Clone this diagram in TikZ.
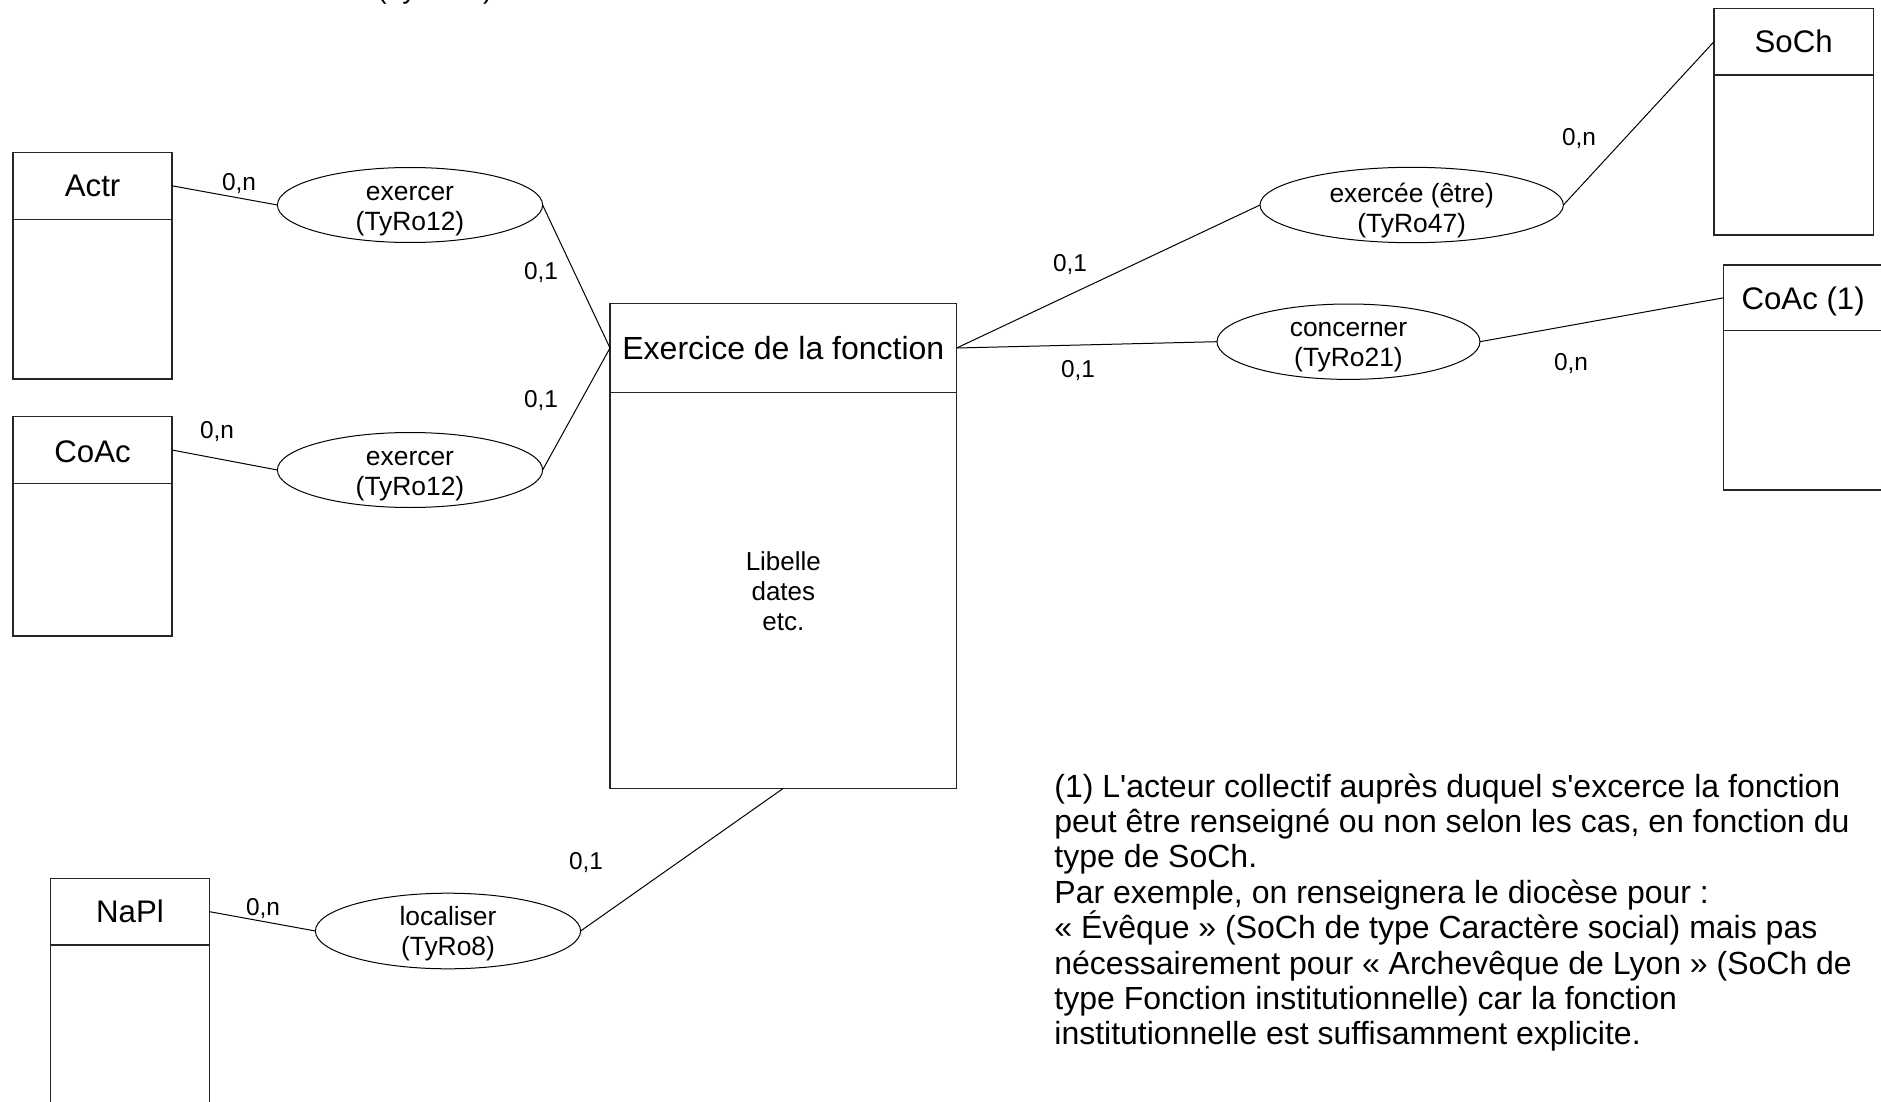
\documentclass[tikz,border=0pt]{standalone}
\usepackage{fontspec}
\setmainfont{Liberation Sans}
\newfontfamily\plainsans{Liberation Sans}
\usetikzlibrary{shapes.geometric}
\begin{document}
\begin{tikzpicture}[x=0.5pt,y=-0.5pt,
  enthead/.style={draw=black!85, line width=0.75pt, rectangle, inner sep=0pt, outer sep=0pt,
    minimum width=79.4pt, text depth=0pt, font=\fontsize{15.6}{18}\selectfont},
  entbody/.style={draw=black!85, line width=0.75pt, rectangle, inner sep=0pt, outer sep=0pt,
    minimum width=79.4pt, anchor=north},
  rel/.style={draw=black, line width=0.5pt, ellipse, inner sep=0pt, outer sep=0pt},
  reltext/.style={inner sep=0pt, align=center, font=\fontsize{13.2}{15}\selectfont},
  card/.style={inner sep=0pt, font=\fontsize{12.2}{14}\selectfont},
  link/.style={draw=black, line width=0.5pt},
  noteline/.style={inner sep=0pt, anchor=base west, font=\plainsans\fontsize{16}{17.5}\selectfont}
]
\useasboundingbox (0,0) rectangle (1881,1102);
\clip (0,0) rectangle (1881,1102);

% cut-off text at the top
\node[inner sep=0pt, anchor=base west, font=\fontsize{14}{16}\selectfont] (topcut) at (377,-1) {(TyRo12)};

% entities
\node[enthead, minimum height=33.5pt] (actr) at (92.6,185.8) {Actr};
\node[entbody, minimum height=79.85pt] (actrb) at (actr.south) {};

\node[enthead, minimum height=33.3pt] (coac) at (92.6,450) {\raisebox{-2pt}{CoAc}};
\node[entbody, minimum height=76.35pt] (coacb) at (coac.south) {};

\node[enthead, minimum height=33.35pt] (napl) at (130,911.65) {NaPl};
\node[entbody, minimum height=84pt] (naplb) at (napl.south) {};

\node[enthead, minimum height=33.35pt, minimum width=79.65pt] (soch) at (1793.65,41.65) {SoCh};
\node[entbody, minimum height=80pt, minimum width=79.65pt] (sochb) at (soch.south) {};

\node[enthead, minimum height=32.85pt, minimum width=79.85pt] (coacun) at (1803.15,297.85) {CoAc (1)};
\node[entbody, minimum height=79.65pt, minimum width=79.85pt] (coacunb) at (coacun.south) {};

\node[enthead, minimum height=44.7pt, minimum width=173.35pt, font=\fontsize{16}{18}\selectfont] (ex) at (783.35,348) {Exercice de la fonction};
\node[entbody, minimum height=197.8pt, minimum width=173.35pt] (exb) at (ex.south) {};
\node[reltext, font=\fontsize{13}{15}\selectfont] (exattr) at (783.35,591.7) {Libelle\\dates\\etc.};

% relations
\node[rel, minimum width=132.6pt, minimum height=37.5pt] (e1) at (410,205) {};
\node[reltext] (e1t) at (410,211.5) {exercer\\(TyRo12)};
\node[rel, minimum width=132.6pt, minimum height=37.5pt] (e2) at (410,470) {};
\node[reltext] (e2t) at (410,476.5) {exercer\\(TyRo12)};
\node[rel, minimum width=151.7pt, minimum height=37.7pt] (e3) at (1411.7,205) {};
\node[reltext] (e3t) at (1411.7,211) {exercée (être)\\(TyRo47)};
\node[rel, minimum width=131.5pt, minimum height=37.7pt] (e4) at (1348.5,341.7) {};
\node[reltext] (e4t) at (1348.5,347) {concerner\\(TyRo21)};
\node[rel, minimum width=132.6pt, minimum height=37.8pt] (e5) at (448,931) {};
\node[reltext] (e5t) at (448,934) {localiser\\(TyRo8)};

% connectors
\draw[link] (actr.east) -- (e1.west);
\draw[link] (coac.east) -- (e2.west);
\draw[link] (e1.east) -- (ex.west);
\draw[link] (e2.east) -- (ex.west);
\draw[link] (ex.east) -- (e3.west);
\draw[link] (ex.east) -- (e4.west);
\draw[link] (e3.east) -- (soch.west);
\draw[link] (e4.east) -- (coacun.west);
\draw[link] (exb.south) -- (e5.east);
\draw[link] (napl.east) -- (e5.west);

% cardinalities
\node[card] (c1) at (239,184) {0,n};
\node[card] (c2) at (217,432) {0,n};
\node[card] (c3) at (541,273) {0,1};
\node[card] (c4) at (541,401) {0,1};
\node[card] (c5) at (1070,265) {0,1};
\node[card] (c6) at (1078,371) {0,1};
\node[card] (c7) at (1579,139) {0,n};
\node[card] (c8) at (1571,364) {0,n};
\node[card] (c9) at (263,909) {0,n};
\node[card] (c10) at (586,863) {0,1};

% note
\node[noteline] (n1) at (1054,797) {(1) L'acteur collectif auprès duquel s'excerce la fonction};
\node[noteline] (n2) at (1054,832.4) {peut être renseigné ou non selon les cas, en fonction du};
\node[noteline] (n3) at (1054,867.8) {type de SoCh.};
\node[noteline] (n4) at (1054,903.2) {Par exemple, on renseignera le diocèse pour :};
\node[noteline] (n5) at (1054,938.6) {« Évêque » (SoCh de type Caractère social) mais pas};
\node[noteline] (n6) at (1054,974) {nécessairement pour « Archevêque de Lyon » (SoCh de};
\node[noteline] (n7) at (1054,1009.4) {type Fonction institutionnelle) car la fonction};
\node[noteline] (n8) at (1054,1044.8) {institutionnelle est suffisamment explicite.};
\end{tikzpicture}
\end{document}
